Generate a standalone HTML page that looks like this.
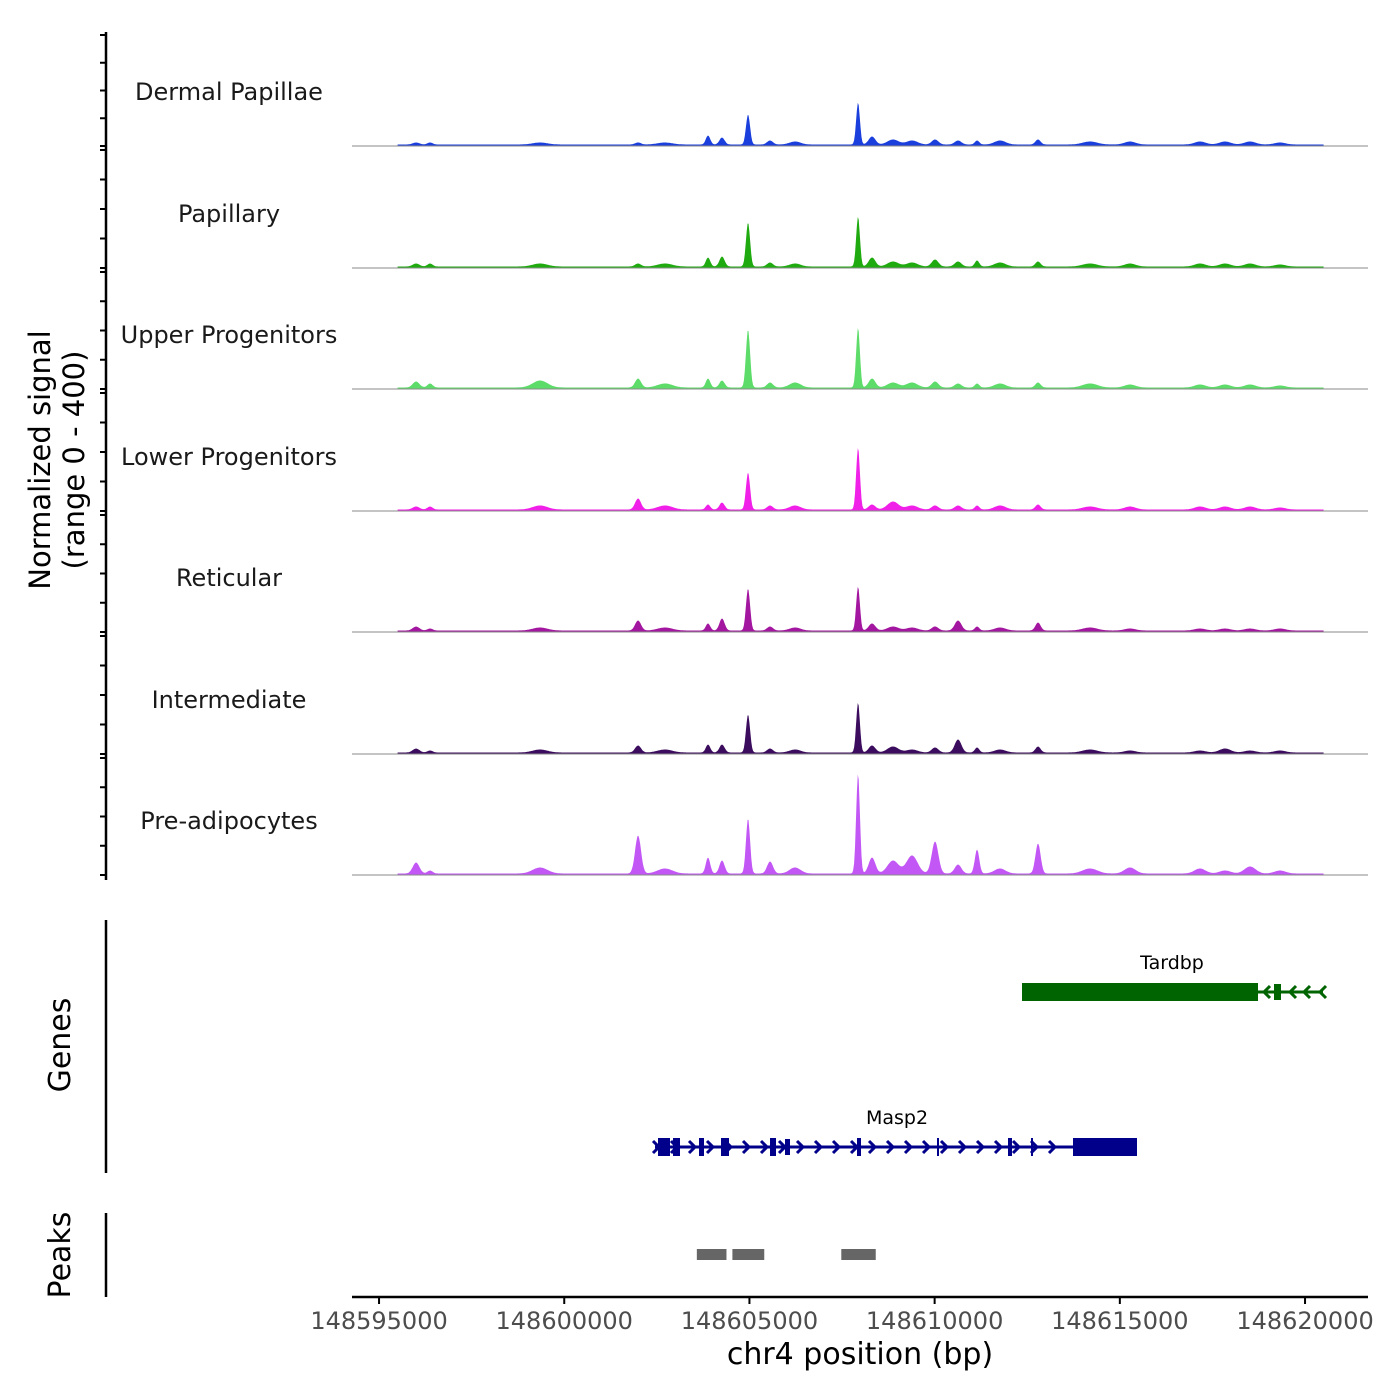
<!DOCTYPE html>
<html><head><meta charset="utf-8"><style>
body{margin:0;background:#fff}
svg{display:block;font-family:"DejaVu Sans","Liberation Sans",sans-serif}
</style></head><body>
<svg id="chart" width="1400" height="1400" viewBox="0 0 1400 1400">
<g id="tracks"></g>
<g id="genes"></g>
<g id="peaks"></g>
<g id="xaxis"></g>
<text x="52" y="460" transform="rotate(-90 52 460)" text-anchor="middle" font-size="29" fill="#000"><tspan x="52" dy="-2">Normalized signal</tspan><tspan x="52" dy="34">(range 0 - 400)</tspan></text>
<text x="70" y="1045" transform="rotate(-90 70 1045)" text-anchor="middle" font-size="30">Genes</text>
<text x="70" y="1255" transform="rotate(-90 70 1255)" text-anchor="middle" font-size="30">Peaks</text>
<text x="860" y="1364" text-anchor="middle" font-size="30">chr4 position (bp)</text>
</svg>
<script>
const trackNames=["Dermal Papillae","Papillary","Upper Progenitors","Lower Progenitors","Reticular","Intermediate","Pre-adipocytes"];
const trackColors=["#1a3fdc","#1faa10","#5ddc6a","#f020e8","#a3169f","#3c0d5e","#c257f5"];
const peakPos=[148596000,148596377,148599347,148601993,148602720,148603882,148604260,148604962,148605556,148606231,148607932,148608310,148608877,148609390,148610011,148610632,148611145,148611765,148612791,148614195,148615275,148617165,148617840,148618515,148619325];
const peakWidth=[90,70,200,80,200,60,70,55,80,150,50,90,150,150,90,90,60,150,70,200,150,150,150,150,150];
const sigDP=[2,2,2,2,2,9,7,30,4,3,42,8,5,4,5,4,4,4,5,3,3,3,3,3,2];
const sigPap=[3,3,3,3,3,9,10,44,4,3,50,9,5,4,7,5,6,4,5,3,3,3,3,3,2];
const sigUpper=[6,4,7,9,4,9,7,58,5,5,60,9,5,5,6,4,4,4,5,4,3,3,3,3,2];
const sigLower=[3,3,4,11,4,5,7,37,4,4,62,5,8,4,4,4,4,4,5,3,3,3,3,3,2];
const sigRet=[4,2,3,10,3,7,12,42,4,3,44,7,4,3,4,10,4,3,8,3,2,2,2,2,2];
const sigInt=[4,2,3,7,3,8,8,38,4,3,50,7,6,3,5,13,5,3,6,3,2,2,4,2,2];
const sigPre=[11,3,6,38,5,16,13,55,12,6,100,16,13,18,32,9,24,5,30,5,6,5,3,7,3];
const trackSignals=[sigDP,sigPap,sigUpper,sigLower,sigRet,sigInt,sigPre];
const xTicks=[148595000,148600000,148605000,148610000,148615000,148620000];
const ns="http://www.w3.org/2000/svg";
const X0=352,X1=1368,D0=148594270,D1=148621700;
function xs(bp){return X0+(bp-D0)/(D1-D0)*(X1-X0);}
function ys(v,base){return base-v;}
function mk(tag,attrs,parent){const e=document.createElementNS(ns,tag);for(const k in attrs)e.setAttribute(k,attrs[k]);parent.appendChild(e);return e;}
const baselines=[146,268,389,511,632,754,875];
const tg=document.getElementById('tracks');
const axL=mk('line',{x1:106,y1:32,x2:106,y2:880,stroke:'#000','stroke-width':2.5},tg);


const sStart=148595500,sEnd=148620500;
trackSignals.forEach((sig,t)=>{
  const b=baselines[t],g=mk('g',{},tg);
  
  
  const top=t===0?35:baselines[t-1]+4;
  for(let i=0;i<5;i++){const y=b-(b-top)*i/4;const tk=mk('line',{x1:100,y1:y,x2:106,y2:y,stroke:'#000','stroke-width':2},g);
    }
  let d='M'+xs(sStart)+','+b;
  for(let bp=sStart;bp<=sEnd;bp+=25){
    let v=1.5;
    for(let i=0;i<peakPos.length;i++){const z=(bp-peakPos[i])/peakWidth[i];v+=sig[i]*Math.exp(-0.5*z*z);}
    d+=' L'+xs(bp).toFixed(1)+','+ys(v,b).toFixed(1);
  }
  d+=' L'+xs(sEnd)+','+b+' Z';
  const p=mk('path',{d:d,fill:trackColors[t]},g);
  
  const bl=mk('line',{x1:X0,y1:b,x2:X1,y2:b,stroke:'#8a8a8a','stroke-width':1},g);
  
  const lb=mk('text',{x:229,y:b-46,'text-anchor':'middle','font-size':24,fill:'#1a1a1a'},g);
  lb.textContent=trackNames[t];
  
});
const gg=document.getElementById('genes');
const gax=mk('line',{x1:106,y1:920,x2:106,y2:1173,stroke:'#000','stroke-width':2.5},gg);

function gene(name,col,y,x0,x1,exons,arrows,dir,lx){
  const g=mk('g',{},gg);
  
  mk('line',{x1:x0,y1:y,x2:x1,y2:y,stroke:col,'stroke-width':3},g);
  exons.forEach(e=>mk('rect',{x:e[0],y:y-e[2],width:e[1]-e[0],height:2*e[2],fill:col},g));
  arrows.forEach(a=>mk('path',{d:dir>0?`M${a-4},${y-6} L${a+2},${y} L${a-4},${y+6}`:`M${a+4},${y-6} L${a-2},${y} L${a+4},${y+6}`,fill:'none',stroke:col,'stroke-width':3},g));
  const t=mk('text',{x:lx,y:y-23,'text-anchor':'middle','font-size':19},g);t.textContent=name;
}
gene('Tardbp','#006400',992,1022,1323,[[1022,1258,9],[1274,1281,8]],[1266,1292,1306,1322],-1,1172);
const mArrows=[];for(let a=657;a<1070;a+=18)mArrows.push(a);
gene('Masp2','#00008b',1147,655,1137,[[658,670,9],[673,680,9],[699,704,9],[721,729,9],[770,776,9],[785,790,8],[857,861,9],[937,939,9],[1008,1012,9],[1031,1033,9],[1073,1137,9]],mArrows,1,897);
const pg=document.getElementById('peaks');
const pax=mk('line',{x1:106,y1:1213,x2:106,y2:1297,stroke:'#000','stroke-width':2.5},pg);

const peakStarts=[148603580,148604540,148607480];
const peakEnds=[148604380,148605400,148608410];
peakStarts.forEach((s,i)=>{const r=mk('rect',{x:xs(s),y:1249,width:xs(peakEnds[i])-xs(s),height:11,fill:'#666'},pg);
  });
const xg=document.getElementById('xaxis');
mk('line',{x1:X0,y1:1297,x2:X1,y2:1297,stroke:'#000','stroke-width':2.5},xg);
xTicks.forEach(v=>{const x=xs(v);
  const tk=mk('line',{x1:x,y1:1297,x2:x,y2:1304,stroke:'#000','stroke-width':2},xg);
  
  const t=mk('text',{x:x,y:1329,'text-anchor':'middle','font-size':24,fill:'#4d4d4d'},xg);t.textContent=v;
  });
</script>
</body></html>
